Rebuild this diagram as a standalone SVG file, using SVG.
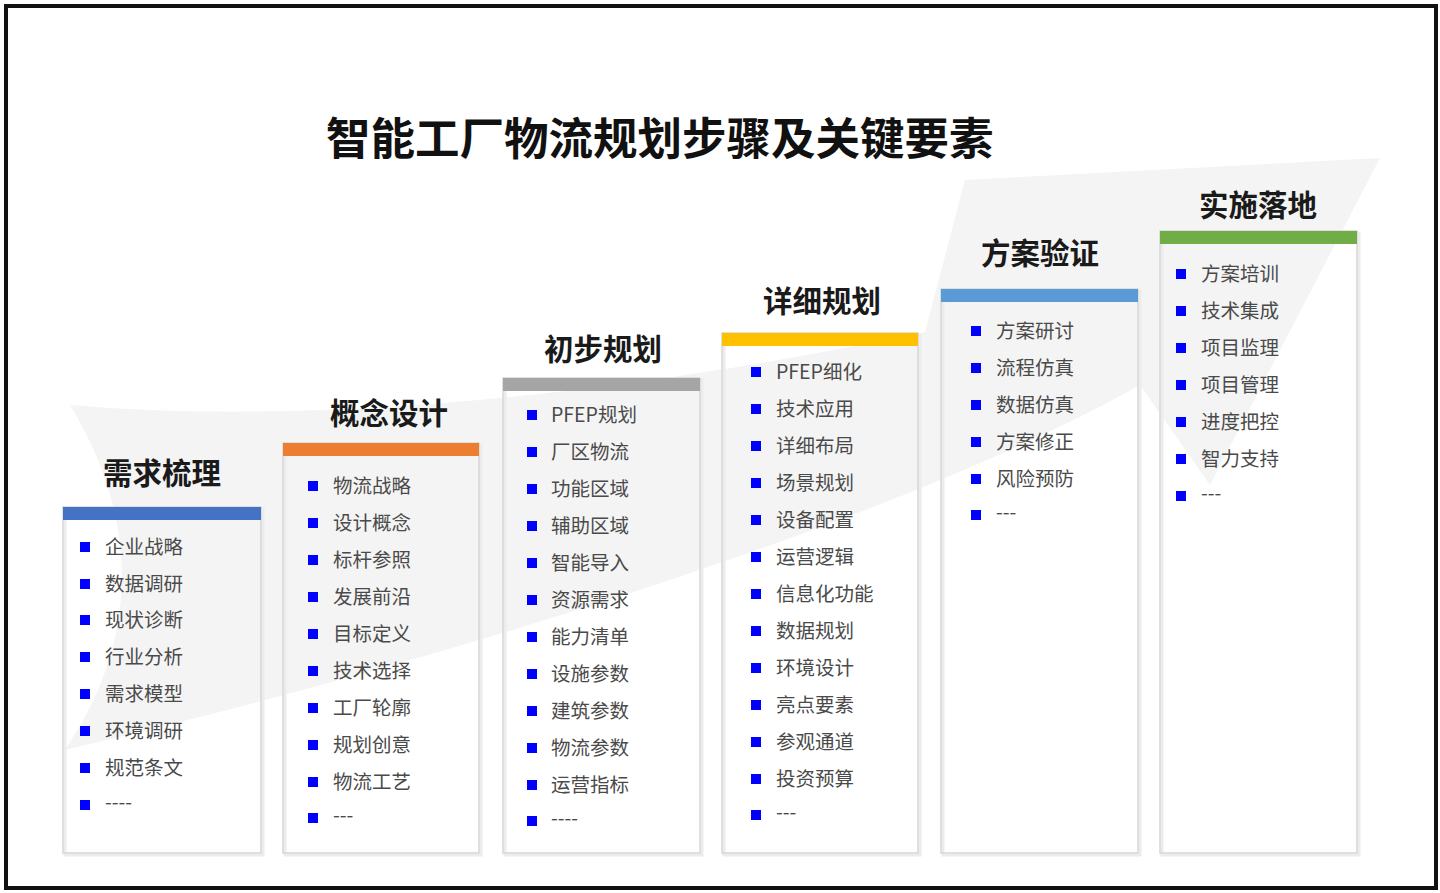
<svg xmlns="http://www.w3.org/2000/svg" width="1440" height="893" viewBox="0 0 1440 893">
<style>
.title{font-family:"Noto Sans CJK SC","Noto Sans",sans-serif;font-size:44.5px;font-weight:bold;fill:#111;}
.hd{font-family:"Noto Sans CJK SC","Noto Sans",sans-serif;font-size:29.5px;font-weight:bold;fill:#1a1a1a;text-anchor:middle;}
.it{font-family:"Noto Sans CJK SC","Noto Sans",sans-serif;font-size:19.5px;fill:#4a4a4a;}
.box{fill:none;stroke:#d6d6d6;stroke-width:1.5;}
.shadow{fill:none;stroke:#ececec;stroke-width:3;}
.bul{fill:#0000ff;}
</style>
<defs>
<rect id="b" class="bul" x="-5" y="-5" width="10" height="10"/>
</defs>
<rect x="0" y="0" width="1440" height="893" fill="#ffffff"/>
<path id="swoosh" d="M70,405 C300,425 600,400 925,332 L965,180 L1380,158 L1210,485 L1140,385 C900,520 450,660 65,750 C140,640 140,520 70,405 Z" fill="#f4f4f4"/>
<rect x="6" y="6" width="1430" height="882" fill="none" stroke="#111" stroke-width="4"/>
<text class="title" x="326" y="155">智能工厂物流规划步骤及关键要素</text>

<g id="connectors"></g>

<g id="step1">
<rect class="shadow" x="65" y="509" width="198" height="346"/>
<rect class="box" x="63" y="507" width="198" height="346"/>
<rect x="63" y="507" width="198" height="13" fill="#4472c4"/>
<text class="hd" x="162" y="484">需求梳理</text>
<use href="#b" x="85" y="547"/><text class="it" x="105" y="554">企业战略</text>
<use href="#b" x="85" y="584"/><text class="it" x="105" y="591">数据调研</text>
<use href="#b" x="85" y="620"/><text class="it" x="105" y="627">现状诊断</text>
<use href="#b" x="85" y="657"/><text class="it" x="105" y="664">行业分析</text>
<use href="#b" x="85" y="694"/><text class="it" x="105" y="701">需求模型</text>
<use href="#b" x="85" y="731"/><text class="it" x="105" y="738">环境调研</text>
<use href="#b" x="85" y="768"/><text class="it" x="105" y="775">规范条文</text>
<use href="#b" x="85" y="805"/><text class="it" x="105" y="809">----</text>
</g>

<g id="step2">
<rect class="shadow" x="285" y="445" width="196" height="410"/>
<rect class="box" x="283" y="443" width="196" height="410"/>
<rect x="283" y="443" width="196" height="13" fill="#ed7d31"/>
<text class="hd" x="389" y="424">概念设计</text>
<use href="#b" x="313" y="486"/><text class="it" x="333" y="493">物流战略</text>
<use href="#b" x="313" y="523"/><text class="it" x="333" y="530">设计概念</text>
<use href="#b" x="313" y="560"/><text class="it" x="333" y="567">标杆参照</text>
<use href="#b" x="313" y="597"/><text class="it" x="333" y="604">发展前沿</text>
<use href="#b" x="313" y="634"/><text class="it" x="333" y="641">目标定义</text>
<use href="#b" x="313" y="671"/><text class="it" x="333" y="678">技术选择</text>
<use href="#b" x="313" y="708"/><text class="it" x="333" y="715">工厂轮廓</text>
<use href="#b" x="313" y="745"/><text class="it" x="333" y="752">规划创意</text>
<use href="#b" x="313" y="782"/><text class="it" x="333" y="789">物流工艺</text>
<use href="#b" x="313" y="818"/><text class="it" x="333" y="822">---</text>
</g>

<g id="step3">
<rect class="shadow" x="505" y="380" width="197" height="475"/>
<rect class="box" x="503" y="378" width="197" height="475"/>
<rect x="503" y="378" width="197" height="13" fill="#a5a5a5"/>
<text class="hd" x="603" y="360">初步规划</text>
<use href="#b" x="532" y="415"/><text class="it" x="551" y="422">PFEP规划</text>
<use href="#b" x="532" y="452"/><text class="it" x="551" y="459">厂区物流</text>
<use href="#b" x="532" y="489"/><text class="it" x="551" y="496">功能区域</text>
<use href="#b" x="532" y="526"/><text class="it" x="551" y="533">辅助区域</text>
<use href="#b" x="532" y="563"/><text class="it" x="551" y="570">智能导入</text>
<use href="#b" x="532" y="600"/><text class="it" x="551" y="607">资源需求</text>
<use href="#b" x="532" y="637"/><text class="it" x="551" y="644">能力清单</text>
<use href="#b" x="532" y="674"/><text class="it" x="551" y="681">设施参数</text>
<use href="#b" x="532" y="711"/><text class="it" x="551" y="718">建筑参数</text>
<use href="#b" x="532" y="748"/><text class="it" x="551" y="755">物流参数</text>
<use href="#b" x="532" y="785"/><text class="it" x="551" y="792">运营指标</text>
<use href="#b" x="532" y="821"/><text class="it" x="551" y="825">----</text>
</g>

<g id="step4">
<rect class="shadow" x="724" y="335" width="196" height="520"/>
<rect class="box" x="722" y="333" width="196" height="520"/>
<rect x="722" y="333" width="196" height="13" fill="#ffc000"/>
<text class="hd" x="822" y="312">详细规划</text>
<use href="#b" x="756" y="372"/><text class="it" x="776" y="379">PFEP细化</text>
<use href="#b" x="756" y="409"/><text class="it" x="776" y="416">技术应用</text>
<use href="#b" x="756" y="446"/><text class="it" x="776" y="453">详细布局</text>
<use href="#b" x="756" y="483"/><text class="it" x="776" y="490">场景规划</text>
<use href="#b" x="756" y="520"/><text class="it" x="776" y="527">设备配置</text>
<use href="#b" x="756" y="557"/><text class="it" x="776" y="564">运营逻辑</text>
<use href="#b" x="756" y="594"/><text class="it" x="776" y="601">信息化功能</text>
<use href="#b" x="756" y="631"/><text class="it" x="776" y="638">数据规划</text>
<use href="#b" x="756" y="668"/><text class="it" x="776" y="675">环境设计</text>
<use href="#b" x="756" y="705"/><text class="it" x="776" y="712">亮点要素</text>
<use href="#b" x="756" y="742"/><text class="it" x="776" y="749">参观通道</text>
<use href="#b" x="756" y="779"/><text class="it" x="776" y="786">投资预算</text>
<use href="#b" x="756" y="815"/><text class="it" x="776" y="819">---</text>
</g>

<g id="step5">
<rect class="shadow" x="943" y="291" width="197" height="564"/>
<rect class="box" x="941" y="289" width="197" height="564"/>
<rect x="941" y="289" width="197" height="13" fill="#5b9bd5"/>
<text class="hd" x="1040" y="264">方案验证</text>
<use href="#b" x="976" y="331"/><text class="it" x="996" y="338">方案研讨</text>
<use href="#b" x="976" y="368"/><text class="it" x="996" y="375">流程仿真</text>
<use href="#b" x="976" y="405"/><text class="it" x="996" y="412">数据仿真</text>
<use href="#b" x="976" y="442"/><text class="it" x="996" y="449">方案修正</text>
<use href="#b" x="976" y="479"/><text class="it" x="996" y="486">风险预防</text>
<use href="#b" x="976" y="515"/><text class="it" x="996" y="519">---</text>
</g>

<g id="step6">
<rect class="shadow" x="1162" y="233" width="197" height="622"/>
<rect class="box" x="1160" y="231" width="197" height="622"/>
<rect x="1160" y="231" width="197" height="13" fill="#70ad47"/>
<text class="hd" x="1258" y="216">实施落地</text>
<use href="#b" x="1181" y="274"/><text class="it" x="1201" y="281">方案培训</text>
<use href="#b" x="1181" y="311"/><text class="it" x="1201" y="318">技术集成</text>
<use href="#b" x="1181" y="348"/><text class="it" x="1201" y="355">项目监理</text>
<use href="#b" x="1181" y="385"/><text class="it" x="1201" y="392">项目管理</text>
<use href="#b" x="1181" y="422"/><text class="it" x="1201" y="429">进度把控</text>
<use href="#b" x="1181" y="459"/><text class="it" x="1201" y="466">智力支持</text>
<use href="#b" x="1181" y="496"/><text class="it" x="1201" y="500">---</text>
</g>
</svg>
